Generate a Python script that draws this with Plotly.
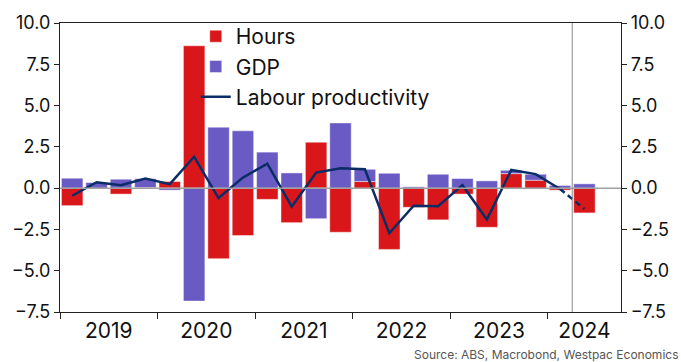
import plotly.graph_objects as go

quarters = ["2019Q1", "2019Q2", "2019Q3", "2019Q4",
            "2020Q1", "2020Q2", "2020Q3", "2020Q4",
            "2021Q1", "2021Q2", "2021Q3", "2021Q4",
            "2022Q1", "2022Q2", "2022Q3", "2022Q4",
            "2023Q1", "2023Q2", "2023Q3", "2023Q4",
            "2024Q1", "2024Q2"]
hours = [-1.06, 0.0, -0.36, 0.04, 0.40, 8.62, -4.27, -2.87, -0.68, -2.09, 2.78, -2.67,
         0.40, -3.71, -1.16, -1.92, -0.36, -2.37, 0.88, 0.48, -0.12, -1.50]
gdp = [0.60, 0.34, 0.54, 0.53, -0.12, -6.84, 3.69, 3.47, 2.18, 0.92, -1.85, 3.95,
       0.74, 0.90, 0.08, 0.84, 0.58, 0.44, 0.20, 0.36, 0.16, 0.26]
productivity = [-0.46, 0.36, 0.18, 0.58, 0.24, 1.90, -0.60, 0.64, 1.48, -1.12, 0.94, 1.20,
                1.14, -2.73, -1.06, -1.10, 0.18, -1.90, 1.10, 0.85, -0.05]
productivity_prelim_q = ["2024Q1", "2024Q2"]
productivity_prelim = [-0.05, -1.26]
years = ["2019", "2020", "2021", "2022", "2023", "2024"]
y_ticks = [-7.5, -5.0, -2.5, 0.0, 2.5, 5.0, 7.5, 10.0]

idx = {q: i for i, q in enumerate(quarters)}
xq = [idx[q] for q in quarters]
n_total = 23  # axis extends to end of 2024Q3
x_lo, x_hi = -0.5, n_total - 0.5

year_start = [i - 0.5 for i, q in enumerate(quarters) if q.endswith("Q1")]
year_mid = []
for k, s in enumerate(year_start):
    e = year_start[k + 1] if k + 1 < len(year_start) else x_hi
    year_mid.append((s + e) / 2)

RED = "#D9171B"
PURPLE = "#6A5AC4"
NAVY = "#0B2D66"
FONT = "Inter"

fig = go.Figure()
fig.add_trace(go.Bar(x=xq, y=hours, name="Hours", marker_color=RED,
                     marker_line=dict(color="rgba(255,255,255,0.55)", width=0.8), width=0.88))
fig.add_trace(go.Bar(x=xq, y=gdp, name="GDP", marker_color=PURPLE,
                     marker_line=dict(color="rgba(255,255,255,0.55)", width=0.8), width=0.88))
fig.add_trace(go.Scatter(x=[idx[q] for q in quarters[:len(productivity)]], y=productivity,
                         mode="lines", name="Labour productivity",
                         line=dict(color=NAVY, width=2.5)))
fig.add_trace(go.Scatter(x=[idx[q] for q in productivity_prelim_q], y=productivity_prelim,
                         mode="lines", showlegend=False,
                         line=dict(color=NAVY, width=2.5, dash="6px,4px")))
# dummy trace to activate overlay axes
fig.add_trace(go.Scatter(x=[None], y=[None], xaxis="x2", yaxis="y2", showlegend=False,
                         hoverinfo="skip"))

fig.add_shape(type="line", xref="paper", x0=0, x1=1, yref="y", y0=0, y1=0,
              line=dict(color="#A0A0A0", width=1.5), layer="above")
fig.add_shape(type="line", xref="x", x0=idx["2024Q2"] - 0.5, x1=idx["2024Q2"] - 0.5,
              yref="paper", y0=0, y1=1, line=dict(color="#8A8A8A", width=1), layer="above")

axis_common = dict(showgrid=False, zeroline=False, showline=True, linecolor="#222222",
                   linewidth=1.2)

fig.update_layout(
    width=681, height=362,
    margin=dict(l=57, r=51, t=20, b=50, pad=0),
    paper_bgcolor="white", plot_bgcolor="white",
    barmode="relative", bargap=0.12,
    font=dict(family=FONT, color="#111111"),
    showlegend=True,
    legend=dict(x=0.242, y=1.024, xanchor="left", yanchor="top", traceorder="normal",
                font=dict(size=21, family=FONT, color="#111111"),
                bgcolor="rgba(0,0,0,0)", tracegroupgap=0, itemwidth=30),
    xaxis=dict(range=[x_lo, x_hi], tickvals=year_start, showticklabels=False,
               ticks="outside", ticklen=6, tickcolor="#222222", mirror=True, **axis_common),
    xaxis2=dict(range=[x_lo, x_hi], overlaying="x", anchor="y", side="bottom",
                tickvals=year_mid, ticktext=years, ticks="", showline=False,
                showgrid=False, zeroline=False, ticklabelstandoff=4,
                tickfont=dict(size=21, family=FONT, color="#111111")),
    yaxis=dict(range=[-7.5, 10], tickvals=y_ticks, tickformat=".1f", ticks="outside",
               ticklen=5, tickcolor="#222222",
               tickfont=dict(size=18, family=FONT, color="#111111"), **axis_common),
    yaxis2=dict(range=[-7.5, 10], overlaying="y", side="right", anchor="x",
                tickvals=y_ticks, tickformat=".1f", ticks="outside", ticklen=5,
                tickcolor="#222222",
                tickfont=dict(size=18, family=FONT, color="#111111"), **axis_common),
)

fig.add_annotation(text="Source: ABS, Macrobond, Westpac Economics", xref="paper", yref="paper",
                   x=(690 - 57) / 573, y=(312 - 355) / 292, xanchor="right", yanchor="middle",
                   showarrow=False, font=dict(size=12, family=FONT, color="#555555"))

fig.write_html("out.html")
